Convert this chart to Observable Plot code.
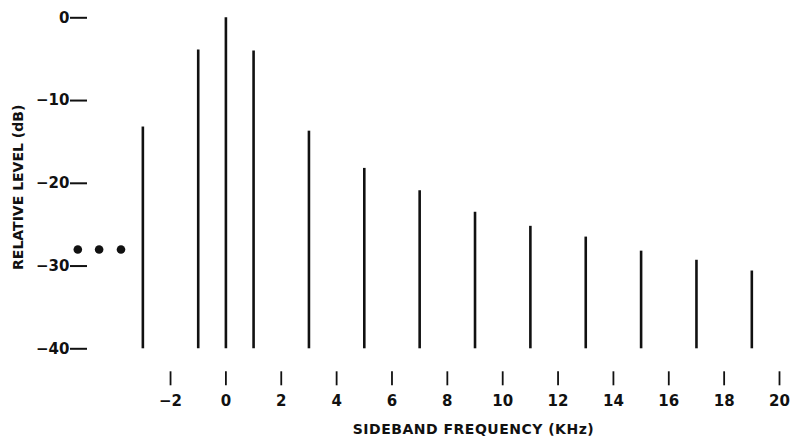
<!DOCTYPE html>
<html>
<head>
<meta charset="utf-8">
<script src="https://cdn.jsdelivr.net/npm/d3@7"></script>
<script src="https://cdn.jsdelivr.net/npm/@observablehq/plot@0.6"></script>
<style>
  html, body { margin: 0; padding: 0; background: #fff; }
  #chart svg { display: block; }
</style>
</head>
<body>
<div id="chart"></div>
<script>
// Sideband frequencies (kHz) and relative levels (dB)
const freqs  = [-3, -1, 0, 1, 3, 5, 7, 9, 11, 13, 15, 17, 19];
const levels = [-13.2, -3.9, 0, -4.0, -13.7, -18.2, -20.9, -23.5, -25.2, -26.5, -28.2, -29.3, -30.6];
const baseLevel = -40;
// continuation dots on the left
const dotFreqs = [-5.35, -4.58, -3.79];
const dotLevel = -28;
const xTicks = [-2, 0, 2, 4, 6, 8, 10, 12, 14, 16, 18, 20];
const yTicks = [0, -10, -20, -30, -40];
const xLabel = "SIDEBAND FREQUENCY (KHz)";
const yLabel = "RELATIVE LEVEL (dB)";

const data = freqs.map((f, i) => ({f, db: levels[i]}));
const dots = dotFreqs.map(f => ({f, db: dotLevel}));
const fmt = d => d < 0 ? "\u2212" + Math.abs(d) : String(d);

const chart = Plot.plot({
  width: 790,
  height: 437,
  marginTop: 17.3,
  marginBottom: 88.7,
  marginLeft: 87,
  marginRight: 11,
  style: {fontFamily: "DejaVu Sans, sans-serif", color: "#111", background: "#fff"},
  x: {domain: [-5, 20]},
  y: {domain: [baseLevel, 0]},
  marks: [
    Plot.ruleX(data, {x: "f", y1: baseLevel, y2: "db", stroke: "#111", strokeWidth: 2.6}),
    Plot.dot(dots, {x: "f", y: "db", r: 4.3, fill: "#111", stroke: null}),
    Plot.axisY({ticks: yTicks, tickSize: 17, tickPadding: 1, fontSize: 15, fontWeight: "bold",
      strokeWidth: 2, label: null, tickFormat: fmt}),
    Plot.axisX({ticks: xTicks, tickSize: 14, tickPadding: 10, dy: 23, fontSize: 15, fontWeight: "bold",
      strokeWidth: 1.8, label: null, tickFormat: fmt}),
    Plot.text([yLabel], {frameAnchor: "left", textAnchor: "middle", text: d => d, rotate: -90, dx: -69, dy: 4,
      fontSize: 14, fontWeight: "bold", fill: "#111"}),
    Plot.text([xLabel], {frameAnchor: "bottom", textAnchor: "middle", text: d => d, dx: 40, dy: 85,
      fontSize: 14, fontWeight: "bold", fill: "#111"})
  ]
});
chart.querySelectorAll("text").forEach(t => {
  if (t.textContent === xLabel) t.setAttribute("letter-spacing", "0.5");
});
document.getElementById("chart").appendChild(chart);
</script>
</body>
</html>
